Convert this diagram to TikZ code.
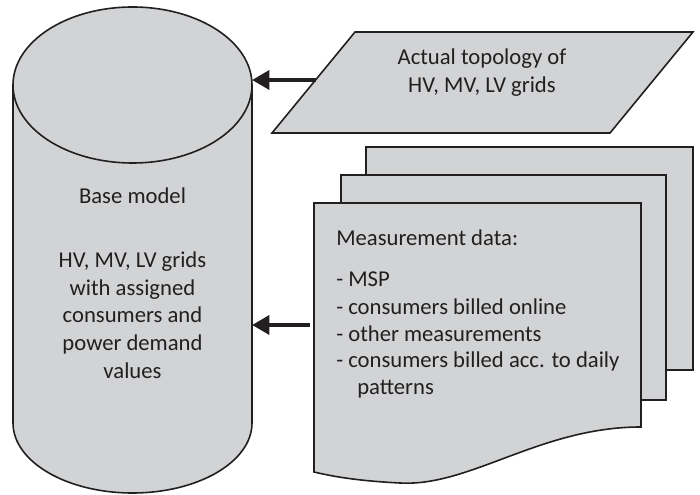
\documentclass[tikz,border=0pt]{standalone}
\usepackage{fontspec}
\setmainfont{Carlito}
\usetikzlibrary{arrows.meta}
\definecolor{boxgray}{HTML}{D1D3D4}
\definecolor{inkgray}{HTML}{231F20}
\tikzset{
  shapeline/.style={draw=inkgray, line width=1.2pt, fill=boxgray},
  feedarrow/.style={draw=inkgray, line width=3.6pt, -{Triangle[length=13pt,width=14pt]}},
  bodytext/.style={text=inkgray, inner sep=0pt, font=\fontsize{17}{19}\selectfont},
}
\begin{document}
\begin{tikzpicture}[x=0.75pt,y=0.75pt]
    \useasboundingbox (0,0) rectangle (700,495);

    % base model (cylinder)
    \draw[shapeline] (13,410) -- (13,72) arc[start angle=180, end angle=360, x radius=119.5, y radius=70] -- (252,410) -- cycle;
    \draw[shapeline] (132.5,410) ellipse[x radius=119.5, y radius=78];
    \node[bodytext, anchor=base] (basetitle) at (132.5,291) {Base model};
    \node[bodytext, align=center, font=\fontsize{17}{20.8}\selectfont] (basetext) at (132.5,180)
        {HV, MV, LV grids\\with assigned\\consumers and\\power demand\\values};
    \coordinate (base top) at (252,415);
    \coordinate (base mid) at (252,170);

    % actual topology (parallelogram)
    \draw[shapeline] (355,463) -- (693,463) -- (610,362) -- (272,362) -- cycle;
    \node[bodytext, align=center, font=\fontsize{17}{21}\selectfont] (topo) at (482,422)
        {Actual topology of\\HV, MV, LV grids};
    \coordinate (topo in) at (315.6,415);

    % measurement data (stack of documents)
    \draw[shapeline] (366,348) rectangle (693,125);
    \draw[shapeline] (341,320) rectangle (666,95);
    \draw[shapeline] (314,292) -- (641,292) -- (641,68)
        .. controls (540,68) and (470,8) .. (400,12)
        .. controls (360,14) and (335,18) .. (314,23) -- cycle;
    \node[bodytext, anchor=base west] (meastitle) at (336,249) {Measurement data:};
    \node[bodytext, anchor=base west] (msp) at (336,208) {- MSP};
    \node[bodytext, anchor=base west] (online) at (336,180) {- consumers billed online};
    \node[bodytext, anchor=base west] (other) at (336,153) {- other measurements};
    \node[bodytext, anchor=base west] (daily) at (336,127) {- consumers billed acc. to daily};
    \node[bodytext, anchor=base west] (patterns) at (357,100) {patterns};
    \coordinate (meas in) at (314,170);

    % arrows into the base model
    \draw[feedarrow] (topo in) -- (base top);
    \draw[feedarrow, shorten <=3pt] (meas in) -- (base mid);
\end{tikzpicture}
\end{document}
